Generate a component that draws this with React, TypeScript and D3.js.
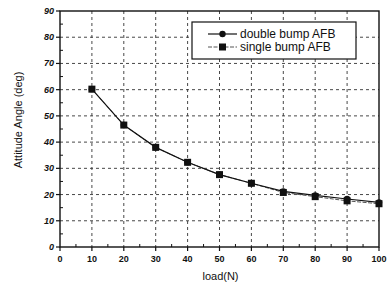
import React from 'react';
import * as d3 from 'd3';

const loads = [10, 20, 30, 40, 50, 60, 70, 80, 90, 100];
const doubleBump = [60.2, 46.5, 38.0, 32.3, 27.6, 24.3, 21.2, 19.7, 18.3, 17.0];
const singleBump = [60.2, 46.5, 38.0, 32.3, 27.6, 24.3, 20.8, 19.2, 17.6, 16.5];
const xTicks = [0, 10, 20, 30, 40, 50, 60, 70, 80, 90, 100];
const yTicks = [0, 10, 20, 30, 40, 50, 60, 70, 80, 90];
const legendNames = ['double bump AFB', 'single bump AFB'];

export default function App() {
  const width = 388, height = 284;
  const box = { left: 60, right: 379, top: 11, bottom: 247 };
  const x = d3.scaleLinear().domain([0, 100]).range([box.left, box.right]);
  const y = d3.scaleLinear().domain([0, 90]).range([box.bottom, box.top]);
  const line = d3.line<number>().x((d, i) => x(loads[i])).y(d => y(d));
  const minorX = d3.range(5, 100, 10);
  const minorY = d3.range(5, 90, 10);
  const font = "'Liberation Sans', Arial, sans-serif";

  return (
    <svg width={width} height={height} style={{ position: 'absolute', left: 0, top: 0, background: '#fff' }}>
      {/* grid */}
      {xTicks.slice(1, -1).map(t => (
        <line key={'gx' + t} x1={x(t)} x2={x(t)} y1={box.top} y2={box.bottom}
          stroke="#333" strokeWidth={0.9} strokeDasharray="3,3" />
      ))}
      {yTicks.slice(1, -1).map(t => (
        <line key={'gy' + t} x1={box.left} x2={box.right} y1={y(t)} y2={y(t)}
          stroke="#333" strokeWidth={0.9} strokeDasharray="3,3" />
      ))}
      {/* frame */}
      <rect x={box.left} y={box.top} width={box.right - box.left} height={box.bottom - box.top}
        fill="none" stroke="#111" strokeWidth={1.4} />
      {/* ticks */}
      {xTicks.map(t => (
        <line key={'tx' + t} x1={x(t)} x2={x(t)} y1={box.bottom} y2={box.bottom + 4} stroke="#111" strokeWidth={1.2} />
      ))}
      {minorX.map(t => (
        <line key={'mx' + t} x1={x(t)} x2={x(t)} y1={box.bottom} y2={box.bottom - 3} stroke="#111" strokeWidth={1} />
      ))}
      {yTicks.map(t => (
        <line key={'ty' + t} x1={box.left - 4} x2={box.left} y1={y(t)} y2={y(t)} stroke="#111" strokeWidth={1.2} />
      ))}
      {minorY.map(t => (
        <line key={'my' + t} x1={box.left} x2={box.left + 3} y1={y(t)} y2={y(t)} stroke="#111" strokeWidth={1} />
      ))}
      {/* tick labels */}
      {xTicks.map(t => (
        <text key={'lx' + t} x={x(t)} y={box.bottom + 15} textAnchor="middle"
          fontFamily={font} fontSize={9} fontWeight="bold" fill="#111">{t}</text>
      ))}
      {yTicks.map(t => (
        <text key={'ly' + t} x={box.left - 6} y={y(t) + 3} textAnchor="end"
          fontFamily={font} fontSize={9} fontWeight="bold" fontStyle="italic" fill="#111">{t}</text>
      ))}
      {/* axis titles */}
      <text x={x(50) + 1} y={280} textAnchor="middle" fontFamily={font} fontSize={11} fill="#111">load(N)</text>
      <text transform="translate(22,120) rotate(-90)" textAnchor="middle"
        fontFamily={font} fontSize={11} fill="#111">Attitude Angle (deg)</text>
      {/* series */}
      <path d={line(singleBump) || ''} fill="none" stroke="#555" strokeWidth={1} strokeDasharray="4,1.5" />
      <path d={line(doubleBump) || ''} fill="none" stroke="#111" strokeWidth={1.2} />
      {singleBump.map((v, i) => (
        <rect key={'s' + i} x={x(loads[i]) - 3.5} y={y(v) - 3.5} width={7} height={7} fill="#111" />
      ))}
      {doubleBump.map((v, i) => (
        <circle key={'d' + i} cx={x(loads[i])} cy={y(v)} r={3.2} fill="#111" />
      ))}
      {/* legend */}
      <rect x={192} y={22} width={164} height={37} fill="#fff" stroke="#111" strokeWidth={1.2} />
      <line x1={208} x2={237} y1={34} y2={34} stroke="#111" strokeWidth={1.2} />
      <circle cx={222.5} cy={34} r={3.2} fill="#111" />
      <text x={240} y={38} fontFamily={font} fontSize={12} fill="#111">{legendNames[0]}</text>
      <line x1={208} x2={237} y1={47} y2={47} stroke="#555" strokeWidth={1} strokeDasharray="4,1.5" />
      <rect x={219} y={43.5} width={7} height={7} fill="#111" />
      <text x={240} y={51} fontFamily={font} fontSize={12} fill="#111">{legendNames[1]}</text>
    </svg>
  );
}
